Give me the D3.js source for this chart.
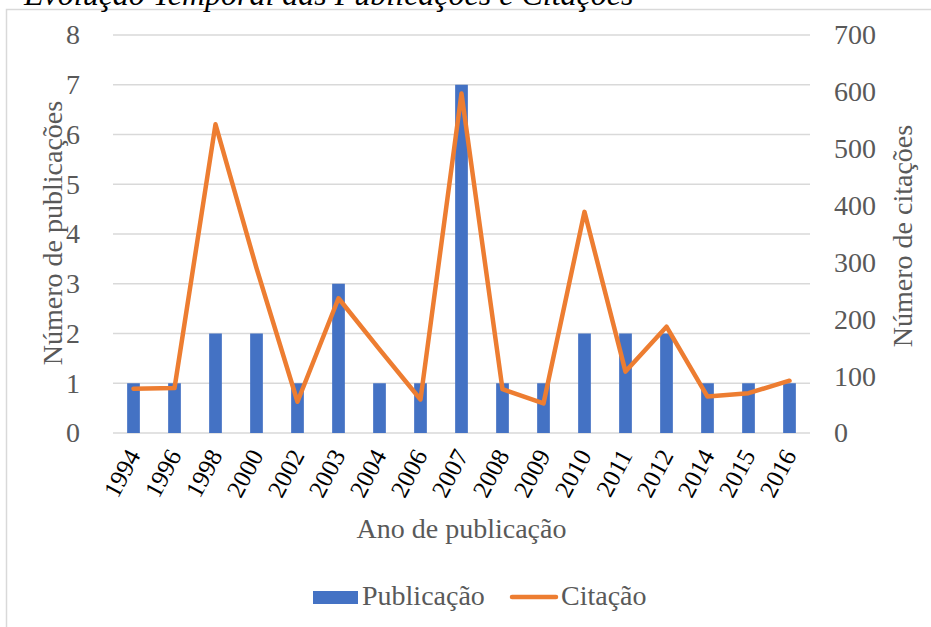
<!DOCTYPE html>
<html>
<head>
<meta charset="utf-8">
<script src="https://cdn.jsdelivr.net/npm/d3@7/dist/d3.min.js"></script>
<style>
  html, body { margin: 0; padding: 0; background: #fff; }
  svg { display: block; }
  text { font-family: "Liberation Serif", "Times New Roman", serif; }
</style>
</head>
<body>
<svg id="chart" width="931" height="627"></svg>
<script>
const years = ["1994","1996","1998","2000","2002","2003","2004","2006","2007","2008","2009","2010","2011","2012","2014","2015","2016"];
const publicacoes = [1,1,2,2,1,3,1,1,7,1,1,2,2,2,1,1,1];
const citacoes = [78,79,543,290,55,237,147,59,597,77,52,389,108,187,64,70,92];
const leftTicks = [0,1,2,3,4,5,6,7,8];
const rightTicks = [0,100,200,300,400,500,600,700];

const svg = d3.select("#chart");
const W = 931, H = 627;
const m = {left: 113, right: 121, top: 35, bottom: 194};
const iw = W - m.left - m.right, ih = H - m.top - m.bottom;
const FS = 28;

// outer chart border
svg.append("rect").attr("x", 6.5).attr("y", 9.5).attr("width", 940).attr("height", 640)
  .attr("fill", "none").attr("stroke", "#d9d9d9").attr("stroke-width", 1.5);

// title (clipped at the top edge like the reference)
svg.append("text").attr("x", 24).attr("y", 5)
  .attr("font-size", 32).attr("font-style", "italic").attr("fill", "#000")
  .text("Evolução Temporal das Publicações e Citações");

const g = svg.append("g").attr("transform", `translate(${m.left},${m.top})`);

const x = d3.scaleBand().domain(years).range([0, iw]).paddingInner(0.69).paddingOuter(0.345);
const yL = d3.scaleLinear().domain([0, 8]).range([ih, 0]);
const yR = d3.scaleLinear().domain([0, 700]).range([ih, 0]);

// gridlines
g.append("g").selectAll("line").data(leftTicks).join("line")
  .attr("x1", 0).attr("x2", iw)
  .attr("y1", d => yL(d)).attr("y2", d => yL(d))
  .attr("stroke", "#d9d9d9").attr("stroke-width", 1.5);

// bars
g.append("g").selectAll("rect").data(years).join("rect")
  .attr("x", d => x(d)).attr("width", x.bandwidth())
  .attr("y", (d, i) => yL(publicacoes[i]))
  .attr("height", (d, i) => ih - yL(publicacoes[i]))
  .attr("fill", "#4472c4");

// line
const line = d3.line()
  .x((d, i) => x(years[i]) + x.bandwidth() / 2)
  .y(d => yR(d));
g.append("path").datum(citacoes).attr("d", line)
  .attr("fill", "none").attr("stroke", "#ed7d31").attr("stroke-width", 4.5)
  .attr("stroke-linejoin", "round").attr("stroke-linecap", "round");

// left axis
const axL = d3.axisLeft(yL).tickValues(leftTicks).tickSize(0).tickPadding(33).tickFormat(d3.format("d"));
const gL = g.append("g").call(axL);
gL.select(".domain").remove();
gL.selectAll("text").attr("font-size", FS).attr("fill", "#595959");

// right axis
const axR = d3.axisRight(yR).tickValues(rightTicks).tickSize(0).tickPadding(24).tickFormat(d3.format("d"));
const gR = g.append("g").attr("transform", `translate(${iw},0)`).call(axR);
gR.select(".domain").remove();
gR.selectAll("text").attr("font-size", FS).attr("fill", "#595959");

// bottom axis
const axB = d3.axisBottom(x).tickSize(0).tickPadding(0);
const gB = g.append("g").attr("transform", `translate(0,${ih})`).call(axB);
gB.select(".domain").remove();
gB.selectAll("text")
  .attr("font-size", 25).attr("fill", "#000")
  .attr("text-anchor", "end").attr("dy", "0.35em")
  .attr("transform", "translate(0,18) rotate(-62)");

// axis titles
svg.append("text").attr("transform", `translate(62,233) rotate(-90)`)
  .attr("text-anchor", "middle").attr("font-size", FS).attr("fill", "#595959")
  .text("Número de publicações");
svg.append("text").attr("transform", `translate(912,236) rotate(-90)`)
  .attr("text-anchor", "middle").attr("font-size", FS).attr("fill", "#595959")
  .text("Número de citações");
svg.append("text").attr("x", m.left + iw / 2).attr("y", 538)
  .attr("text-anchor", "middle").attr("font-size", FS).attr("fill", "#595959")
  .text("Ano de publicação");

// legend
const lg = svg.append("g");
lg.append("rect").attr("x", 313).attr("y", 591).attr("width", 45).attr("height", 13).attr("fill", "#4472c4");
lg.append("text").attr("x", 362).attr("y", 605).attr("font-size", FS).attr("fill", "#595959").text("Publicação");
lg.append("line").attr("x1", 512).attr("x2", 556).attr("y1", 597).attr("y2", 597)
  .attr("stroke", "#ed7d31").attr("stroke-width", 4.5).attr("stroke-linecap", "round");
lg.append("text").attr("x", 561).attr("y", 605).attr("font-size", FS).attr("fill", "#595959").text("Citação");
</script>
</body>
</html>
